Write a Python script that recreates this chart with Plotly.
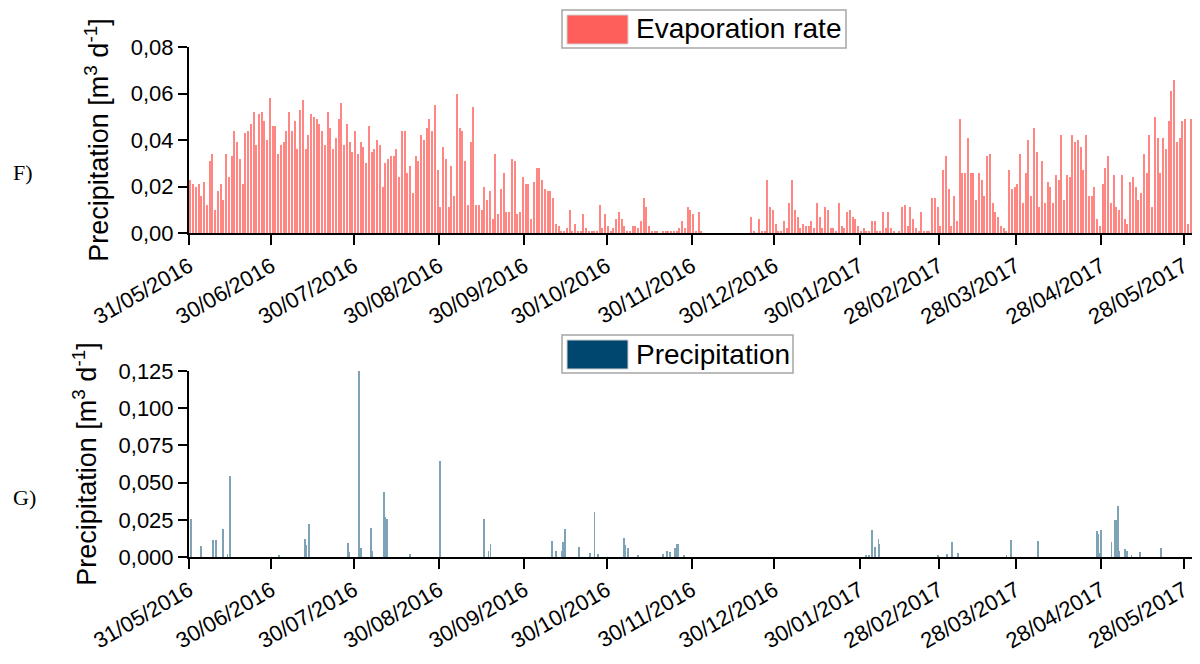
import pandas as pd
import plotly.graph_objects as go

# ---------------------------------------------------------------------------
# Daily peak evaporation rate, litres per day (converted to m3/d below)
# ---------------------------------------------------------------------------
evap_may_2016 = [23]  # 31/05/2016
evap_jun_2016 = [21, 20, 21, 16, 22, 12, 31, 34, 10, 18, 21, 14, 34, 24, 33,
                 44, 39, 32, 21, 43, 44, 47, 52, 38, 51, 52, 48, 40, 58, 46]
evap_jul_2016 = [46, 34, 38, 39, 44, 52, 44, 48, 36, 53, 57, 36, 42, 51, 50, 49,
                 47, 44, 38, 52, 45, 36, 41, 49, 56, 38, 47, 39, 35, 44, 34]
evap_aug_2016 = [39, 37, 30, 46, 35, 36, 40, 38, 20, 30, 32, 33, 33, 36, 24, 44,
                 44, 26, 29, 17, 33, 31, 42, 40, 45, 49, 44, 55, 27, 11, 37]
evap_sep_2016 = [32, 11, 29, 16, 60, 45, 44, 31, 12, 39, 54, 12, 12, 10, 20,
                 14, 18, 6, 34, 8, 19, 26, 9, 9, 32, 31, 8, 9, 24, 21]
evap_oct_2016 = [21, 6, 22, 28, 28, 23, 19, 18, 18, 15, 4, 3, 1, 1, 2, 10,
                 1, 4, 1, 1, 8, 2, 1, 1, 1, 1, 12, 2, 8, 3, 1]
evap_nov_2016 = [2, 6, 9, 6, 3, 1, 1, 3, 3, 2, 5, 15, 11, 3, 1,
                 1, 1, 0, 1, 1, 1, 1, 1, 1, 2, 5, 2, 11, 10, 8]
evap_dec_2016 = [1, 9, 1, 0, 0, 0, 0, 0, 0, 0, 0, 0, 0, 0, 0, 0,
                 0, 0, 0, 0, 7, 1, 0, 6, 1, 1, 23, 11, 10, 4, 1]
evap_jan_2017 = [1, 5, 2, 13, 23, 10, 7, 2, 4, 3, 3, 5, 2, 13, 7, 2,
                 11, 10, 2, 2, 1, 13, 3, 2, 9, 10, 7, 6, 3, 1, 2]
evap_feb_2017 = [1, 1, 5, 5, 1, 1, 9, 2, 9, 2, 1, 0, 1, 11,
                 12, 3, 11, 6, 2, 1, 9, 1, 1, 1, 15, 15, 11, 3]
evap_mar_2017 = [27, 33, 19, 3, 16, 5, 49, 26, 26, 41, 26, 26, 14, 26, 23, 16,
                 33, 34, 13, 9, 7, 3, 2, 1, 27, 19, 20, 21, 34, 13, 26]
evap_apr_2017 = [40, 16, 45, 35, 11, 31, 13, 22, 20, 13, 25, 23, 42, 14, 25,
                 24, 42, 39, 40, 37, 27, 42, 16, 16, 20, 6, 3, 21, 28, 33]
evap_may_2017 = [13, 25, 11, 10, 25, 6, 4, 22, 24, 20, 14, 17, 34, 26, 42, 11,
                 50, 41, 26, 41, 36, 48, 61, 66, 39, 41, 48, 49, 4, 49, 20]

# ---------------------------------------------------------------------------
# Precipitation events (timestamp, litres per day)
# ---------------------------------------------------------------------------
precip_times = [
    "2016-05-31 16:00", "2016-06-04 10:00", "2016-06-08 19:00", "2016-06-09 17:00",
    "2016-06-12 07:00", "2016-06-14 00:00", "2016-06-14 22:00", "2016-07-02 17:00",
    "2016-07-12 05:00", "2016-07-12 14:00", "2016-07-13 17:00", "2016-07-28 00:00",
    "2016-07-28 07:00", "2016-07-31 17:00", "2016-08-01 14:00", "2016-08-05 02:00",
    "2016-08-05 07:00", "2016-08-05 17:00", "2016-08-10 02:00", "2016-08-10 10:00",
    "2016-08-11 00:00", "2016-08-19 12:00", "2016-08-30 05:00", "2016-09-15 05:00",
    "2016-09-15 10:00", "2016-09-17 00:00", "2016-09-17 17:00", "2016-10-10 00:00",
    "2016-10-11 14:00", "2016-10-13 19:00", "2016-10-14 05:00", "2016-10-14 10:00",
    "2016-10-14 17:00", "2016-10-19 19:00", "2016-10-24 00:00", "2016-10-25 14:00",
    "2016-10-27 00:00", "2016-11-05 10:00", "2016-11-05 18:00", "2016-11-06 22:00",
    "2016-11-10 12:00", "2016-11-19 14:00", "2016-11-21 00:00", "2016-11-22 00:00",
    "2016-11-23 19:00", "2016-11-24 12:00", "2016-11-25 00:00", "2016-11-27 00:00",
    "2017-02-01 12:00", "2017-02-02 12:00", "2017-02-03 12:00", "2017-02-04 19:00",
    "2017-02-05 22:00", "2017-02-06 00:00", "2017-02-27 12:00", "2017-03-03 00:00",
    "2017-03-04 17:00", "2017-03-07 00:00", "2017-03-24 12:00", "2017-03-26 00:00",
    "2017-03-26 07:00", "2017-04-05 00:00", "2017-04-26 10:00", "2017-04-26 22:00",
    "2017-04-27 12:00", "2017-04-28 00:00", "2017-05-01 17:00", "2017-05-03 02:00",
    "2017-05-03 14:00", "2017-05-04 00:00", "2017-05-04 12:00", "2017-05-06 12:00",
    "2017-05-07 07:00", "2017-05-09 00:00", "2017-05-12 00:00", "2017-05-19 14:00",
]
precip_litres = [
    25.5, 7.4, 11.4, 11.4,
    18.8, 2.0, 54.4, 1.0,
    12.0, 8.0, 22.0, 9.6,
    3.5, 125.0, 6.0, 15.0,
    19.5, 4.0, 44.0, 27.0,
    25.5, 2.0, 64.5, 25.3,
    10.0, 4.0, 8.7, 11.0,
    4.0, 4.0, 10.0, 7.0,
    18.6, 6.9, 3.0, 30.0,
    2.0, 13.0, 8.0, 6.0,
    1.0, 2.0, 4.0, 3.5,
    6.0, 8.7, 8.7, 1.0,
    1.0, 1.5, 18.0, 7.0,
    11.9, 9.0, 1.0, 2.0,
    10.3, 3.0, 1.0, 11.4,
    7.5, 10.7, 17.5, 15.5,
    3.0, 18.0, 10.3, 25.0,
    25.0, 34.0, 4.0, 5.5,
    4.0, 1.0, 3.5, 6.3,
]

tick_dates = ["2016-05-31", "2016-06-30", "2016-07-30", "2016-08-30", "2016-09-30",
              "2016-10-30", "2016-11-30", "2016-12-30", "2017-01-30", "2017-02-28",
              "2017-03-28", "2017-04-28", "2017-05-28"]
tick_labels = ["31/05/2016", "30/06/2016", "30/07/2016", "30/08/2016", "30/09/2016",
               "30/10/2016", "30/11/2016", "30/12/2016", "30/01/2017", "28/02/2017",
               "28/03/2017", "28/04/2017", "28/05/2017"]

evap_litres = (evap_may_2016 + evap_jun_2016 + evap_jul_2016 + evap_aug_2016 +
               evap_sep_2016 + evap_oct_2016 + evap_nov_2016 + evap_dec_2016 +
               evap_jan_2017 + evap_feb_2017 + evap_mar_2017 + evap_apr_2017 +
               evap_may_2017)
evap_days = pd.date_range("2016-05-31 12:00", periods=len(evap_litres), freq="D")
evap_m3 = [v / 1000 for v in evap_litres]
precip_m3 = [v / 1000 for v in precip_litres]

W, H = 1200, 664
DAY_MS = 86400000
EVAP_RED = "#FF5F5A"
PRECIP_BLUE = "#00476F"
FONT = "Liberation Sans, Arial, sans-serif"


def px_x(x):
    return x / W


def px_y(y):
    return (H - y) / H


fig = go.Figure()
fig.add_trace(go.Bar(
    x=evap_days, y=evap_m3, xaxis="x", yaxis="y",
    width=DAY_MS * 0.42, marker=dict(color=EVAP_RED, line_width=0),
    opacity=0.75, showlegend=False, name="Evaporation rate",
))
fig.add_trace(go.Bar(
    x=pd.to_datetime(precip_times), y=precip_m3, xaxis="x2", yaxis="y2",
    width=DAY_MS * 0.33, marker=dict(color=PRECIP_BLUE, line_width=0),
    opacity=0.5, showlegend=False, name="Precipitation",
))

x_common = dict(
    type="date", range=["2016-05-31", "2017-05-31"],
    tickmode="array", tickvals=tick_dates, ticktext=tick_labels,
    tickangle=-30, tickfont=dict(family=FONT, size=22, color="black"),
    showline=True, linecolor="black", linewidth=2,
    ticks="outside", ticklen=10, tickwidth=2, tickcolor="black",
    showgrid=False, zeroline=False, automargin=False,
    domain=[px_x(189), px_x(1192)],
)
y_common = dict(
    showline=True, linecolor="black", linewidth=2,
    ticks="outside", ticklen=9, tickwidth=2, tickcolor="black",
    showgrid=False, zeroline=False, automargin=False,
    tickfont=dict(family=FONT, size=22, color="black"),
    title=dict(text="Precipitation [m<sup>3</sup> d<sup>-1</sup>]",
               font=dict(family=FONT, size=27, color="black"), standoff=14),
)

fig.update_layout(
    width=W, height=H,
    margin=dict(l=0, r=0, t=0, b=0),
    paper_bgcolor="white", plot_bgcolor="white",
    separators=",.",
    barmode="overlay", bargap=0,
    showlegend=False,
    xaxis=dict(**x_common, anchor="y"),
    xaxis2=dict(**x_common, anchor="y2"),
    yaxis=dict(**y_common, anchor="x", range=[0, 0.08], dtick=0.02,
               tickformat=".2f", domain=[px_y(233), px_y(47)]),
    yaxis2=dict(**y_common, anchor="x2", range=[0, 0.125], dtick=0.025,
                tickformat=".3f", domain=[px_y(557), px_y(371)]),
)

# Legend boxes drawn as shapes with a text label
legends = [
    ("Evaporation rate", EVAP_RED, 562, 846, 10, 48),
    ("Precipitation", PRECIP_BLUE, 562, 793, 335, 373),
]
for label, color, x0, x1, y0, y1 in legends:
    fig.add_shape(type="rect", xref="paper", yref="paper",
                  x0=px_x(x0), x1=px_x(x1), y0=px_y(y1), y1=px_y(y0),
                  line=dict(color="#A6A6A6", width=1.5), fillcolor="white")
    fig.add_shape(type="rect", xref="paper", yref="paper",
                  x0=px_x(x0 + 5), x1=px_x(x0 + 66), y0=px_y(y1 - 4), y1=px_y(y0 + 5),
                  line=dict(color="#D0D0D0", width=1), fillcolor=color)
    fig.add_annotation(text=label, xref="paper", yref="paper",
                       x=px_x(x0 + 72), y=px_y((y0 + y1) / 2),
                       xanchor="left", yanchor="middle", showarrow=False,
                       font=dict(family=FONT, size=28, color="black"))

# Panel letters
for letter, yc in [("F)", 172), ("G)", 497)]:
    fig.add_annotation(text=letter, xref="paper", yref="paper",
                       x=px_x(11), y=px_y(yc), xanchor="left", yanchor="middle",
                       showarrow=False,
                       font=dict(family="Liberation Serif, Times New Roman, serif",
                                 size=22, color="black"))

fig.write_html("out.html")
